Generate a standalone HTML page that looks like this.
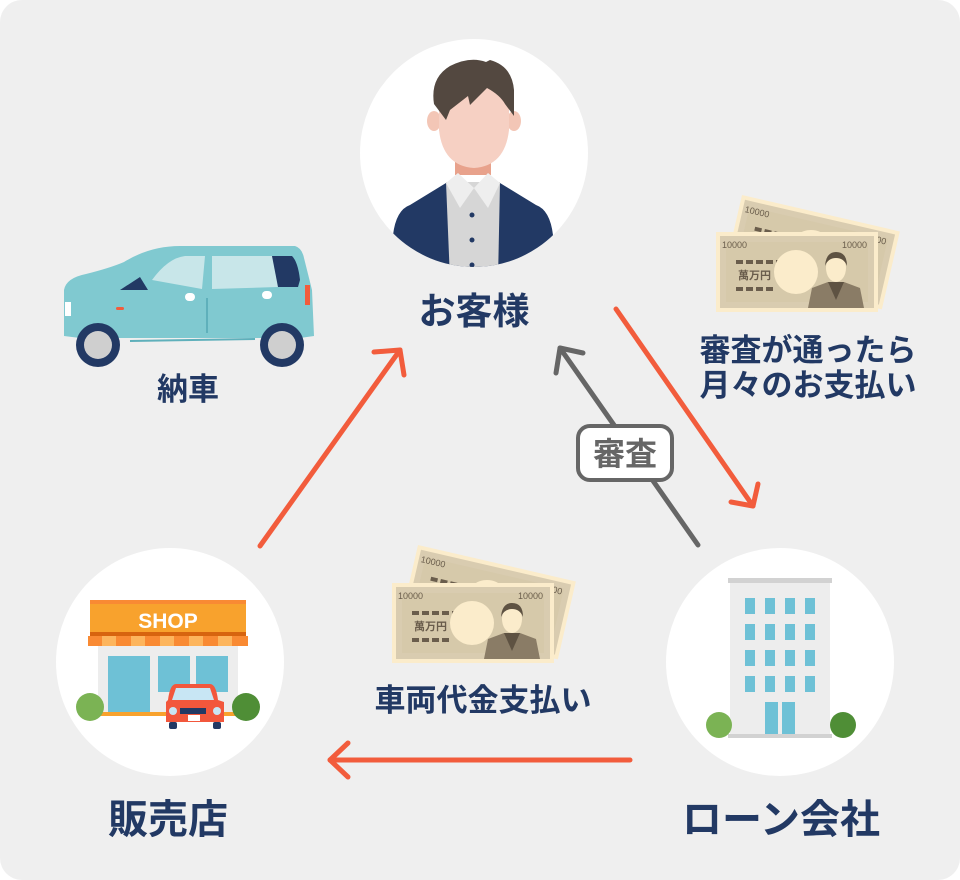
<!DOCTYPE html>
<html><head><meta charset="utf-8"><style>
html,body{margin:0;padding:0;background:#fff;}
svg{display:block}
text{font-family:"Liberation Sans","Noto Sans CJK JP",sans-serif;font-weight:700;}
</style></head><body>
<svg width="960" height="880" viewBox="0 0 960 880" xmlns="http://www.w3.org/2000/svg">
<defs>
<g id="bill">
  <rect x="0" y="0" width="162" height="80" fill="#fbeccb"/>
  <rect x="4" y="4" width="154" height="72" fill="#d9ccb0"/>
  <rect x="10" y="10" width="142" height="60" fill="#d4c6a6" opacity="0.6"/>
  <text x="6" y="16" font-size="9" fill="#6a5d4c" font-family="Liberation Serif" style="font-weight:400">10000</text>
  <text x="126" y="16" font-size="9" fill="#6a5d4c" font-family="Liberation Serif" style="font-weight:400">10000</text>
  <g fill="#6a5d4c"><rect x="20" y="28" width="7" height="4"/><rect x="30" y="28" width="7" height="4"/><rect x="40" y="28" width="7" height="4"/><rect x="50" y="28" width="7" height="4"/><rect x="60" y="28" width="7" height="4"/>
  <rect x="20" y="55" width="7" height="4"/><rect x="30" y="55" width="7" height="4"/><rect x="40" y="55" width="7" height="4"/><rect x="50" y="55" width="7" height="4"/></g>
  <text x="22" y="47" font-size="11" fill="#6a5d4c">萬万円</text>
  <circle cx="80" cy="40" r="22" fill="#fbeccb"/>
  <path d="M92 76 L96 56 L112 50 L128 50 L144 56 L148 76 Z" fill="#8a7c66"/>
  <path d="M112 50 L120 68 L128 50 Z" fill="#5e5242"/>
  <ellipse cx="120" cy="36" rx="10" ry="14" fill="#fbeccb"/>
  <path d="M109 34 Q110 20 120 20 Q131 20 131 34 Q128 26 120 26 Q112 26 109 34Z" fill="#5e5242"/>
</g>
</defs>
<rect x="0" y="0" width="960" height="880" rx="22" fill="#efefef"/>

<circle cx="474" cy="153" r="114" fill="#fff"/>
<circle cx="170" cy="662" r="114" fill="#fff"/>
<circle cx="780" cy="662" r="114" fill="#fff"/>

<clipPath id="pc"><circle cx="474" cy="153" r="114"/></clipPath>
<g clip-path="url(#pc)">
  <path d="M393 235 Q396 210 410 205 L446 183 L500 183 L536 205 Q550 210 553 235 L553 280 L393 280 Z" fill="#223964"/>
  <path d="M446 182 L500 182 L498 280 L450 280 Z" fill="#d6d6d6"/>
  <rect x="455" y="155" width="36" height="20" fill="#e8a28c"/>
  <path d="M446 183 L458 173 L474 188 L460 208 Z" fill="#eeeeee"/>
  <path d="M500 183 L488 173 L474 188 L488 208 Z" fill="#eeeeee"/>
  <circle cx="472" cy="215" r="2.5" fill="#223964"/><circle cx="472" cy="240" r="2.5" fill="#223964"/><circle cx="472" cy="265" r="2.5" fill="#223964"/>
  <ellipse cx="434" cy="121" rx="7" ry="10" fill="#f3c6b6"/>
  <ellipse cx="514" cy="121" rx="7" ry="10" fill="#f3c6b6"/>
  <path d="M439 100 Q439 66 474 66 Q509 66 509 100 L509 130 Q505 166 474 168 Q443 166 439 130 Z" fill="#f6d0c3"/>
  <path d="M434 104 Q430 78 450 66 Q470 56 486 62 L490 60 Q512 66 514 90 L514 116 L505 104 Q500 95 487 88 L470 105 L468 96 L450 110 L446 120 Z" fill="#534840"/>
</g>
<text x="474" y="324" font-size="37" fill="#223964" text-anchor="middle">お客様</text>

<g>
  <path d="M64 290 Q66 278 86 274 Q110 268 124 262 Q150 246 180 246 L295 246 Q302 248 304 258 L312 290 L314 336 L300 338 L80 338 L64 336 Z" fill="#80c9d0"/>
  <path d="M152 280 Q168 258 185 256 L205 256 L202 289 Z" fill="#c8e6e9"/>
  <path d="M212 256 L274 256 L278 287 L212 289 Z" fill="#c8e6e9"/>
  <path d="M272 256 L292 256 Q298 262 300 280 L298 287 L278 287 Z" fill="#223964"/>
  <path d="M120 290 L140 277 L148 290 Z" fill="#223964"/>
  <rect x="305" y="285" width="5" height="20" fill="#f25c3c"/>
  <rect x="116" y="307" width="8" height="3" rx="1.5" fill="#f25c3c"/>
  <rect x="185" y="293" width="10" height="8" rx="4" fill="#fff"/><rect x="262" y="291" width="10" height="8" rx="4" fill="#fff"/>
  <line x1="207" y1="298" x2="207" y2="333" stroke="#5fb0bb" stroke-width="2"/>
  <line x1="130" y1="341" x2="255" y2="339" stroke="#5fb0bb" stroke-width="2"/>
  <rect x="65" y="302" width="6" height="14" fill="#fff"/>
  <circle cx="98" cy="345" r="22" fill="#223964"/><circle cx="98" cy="345" r="14" fill="#cfcfcf"/>
  <circle cx="282" cy="345" r="22" fill="#223964"/><circle cx="282" cy="345" r="14" fill="#cfcfcf"/>
</g>
<text x="188" y="400" font-size="31" fill="#223964" text-anchor="middle">納車</text>

<g>
  <rect x="90" y="600" width="156" height="34" fill="#f8a22d"/>
  <rect x="90" y="600" width="156" height="4" fill="#f98a33"/>
  <rect x="90" y="632" width="156" height="4" fill="#d7640f"/>
  <rect x="88" y="636" width="160" height="10" fill="#f98a33"/>
  <g fill="#fdb55d"><rect x="102" y="636" width="14" height="10"/><rect x="131" y="636" width="14" height="10"/><rect x="160" y="636" width="14" height="10"/><rect x="189" y="636" width="14" height="10"/><rect x="218" y="636" width="14" height="10"/></g>
  <text x="168" y="628" font-size="21" fill="#fff" text-anchor="middle">SHOP</text>
  <rect x="98" y="646" width="140" height="68" fill="#ededed"/>
  <rect x="108" y="656" width="42" height="56" fill="#6ec1d6"/>
  <rect x="158" y="656" width="32" height="36" fill="#6ec1d6"/>
  <rect x="196" y="656" width="32" height="36" fill="#6ec1d6"/>
  <rect x="98" y="712" width="140" height="4" fill="#f8a22d"/>
  <circle cx="90" cy="707" r="14" fill="#7bb354"/>
  <circle cx="246" cy="707" r="14" fill="#4f8e36"/>
  <path d="M168 700 Q170 684 176 684 L210 684 Q216 684 218 700 L224 702 L224 722 L166 722 L166 702Z" fill="#f2573c"/>
  <path d="M172 700 L176 688 L210 688 L214 700Z" fill="#c8e6f4"/>
  <circle cx="173" cy="711" r="4" fill="#c8e6f4"/><circle cx="217" cy="711" r="4" fill="#c8e6f4"/>
  <rect x="180" y="708" width="26" height="6" fill="#223964"/>
  <rect x="188" y="715" width="12" height="6" fill="#fff"/>
  <rect x="169" y="722" width="8" height="7" rx="2" fill="#223964"/><rect x="213" y="722" width="8" height="7" rx="2" fill="#223964"/>
</g>
<text x="168" y="833" font-size="40" fill="#223964" text-anchor="middle">販売店</text>

<g>
  <rect x="730" y="582" width="100" height="156" fill="#ededed"/>
  <rect x="728" y="578" width="104" height="5" fill="#d2d2d2"/>
  <g fill="#6ec1d6">
    <rect x="745" y="598" width="10" height="16"/><rect x="765" y="598" width="10" height="16"/><rect x="785" y="598" width="10" height="16"/><rect x="805" y="598" width="10" height="16"/>
    <rect x="745" y="624" width="10" height="16"/><rect x="765" y="624" width="10" height="16"/><rect x="785" y="624" width="10" height="16"/><rect x="805" y="624" width="10" height="16"/>
    <rect x="745" y="650" width="10" height="16"/><rect x="765" y="650" width="10" height="16"/><rect x="785" y="650" width="10" height="16"/><rect x="805" y="650" width="10" height="16"/>
    <rect x="745" y="676" width="10" height="16"/><rect x="765" y="676" width="10" height="16"/><rect x="785" y="676" width="10" height="16"/><rect x="805" y="676" width="10" height="16"/>
    <rect x="765" y="702" width="13" height="34"/><rect x="782" y="702" width="13" height="34"/>
  </g>
  <rect x="728" y="734" width="104" height="4" fill="#d2d2d2"/>
  <circle cx="719" cy="725" r="13" fill="#7bb354"/>
  <circle cx="843" cy="725" r="13" fill="#4f8e36"/>
</g>
<text x="781" y="833" font-size="40" fill="#223964" text-anchor="middle">ローン会社</text>

<use href="#bill" transform="translate(742,195) rotate(13)"/>
<use href="#bill" transform="translate(716,232)"/>
<use href="#bill" transform="translate(418,545) rotate(13)"/>
<use href="#bill" transform="translate(392,583)"/>
<text x="808" y="361" font-size="31" fill="#223964" text-anchor="middle">審査が通ったら</text>
<text x="808" y="396" font-size="31" fill="#223964" text-anchor="middle">月々のお支払い</text>
<text x="483" y="711" font-size="31" fill="#223964" text-anchor="middle">車両代金支払い</text>

<g stroke="#f25c3c" stroke-width="5" stroke-linecap="round" stroke-linejoin="round" fill="none">
  <line x1="260" y1="546" x2="400" y2="350"/>
  <polyline points="374,352 400,350 404,375"/>
  <line x1="616" y1="309" x2="753" y2="506"/>
  <polyline points="731,502 753,506 758,484"/>
  <line x1="630" y1="760" x2="330" y2="760"/>
  <polyline points="348,743 330,760 348,777"/>
</g>
<g stroke="#666" stroke-width="5" stroke-linecap="round" stroke-linejoin="round" fill="none">
  <line x1="698" y1="545" x2="560" y2="348"/>
  <polyline points="583,353 560,348 556,373"/>
</g>
<rect x="578" y="426" width="94" height="54" rx="12" fill="#fff" stroke="#666" stroke-width="4"/>
<text x="625" y="465" font-size="32" fill="#666" text-anchor="middle">審査</text>
</svg>
</body></html>
